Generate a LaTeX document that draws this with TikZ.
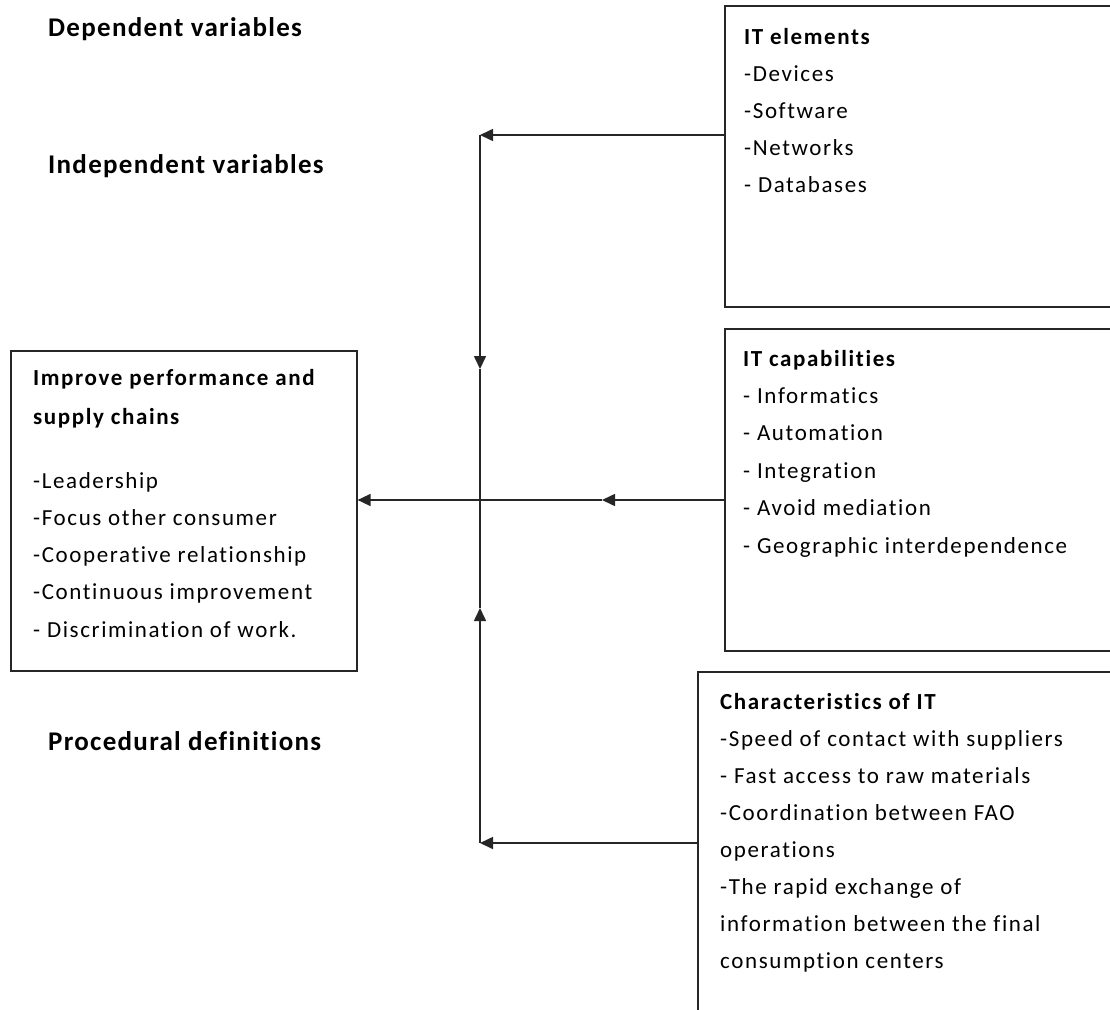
\documentclass[tikz,border=0pt]{standalone}
\usepackage{fontspec}
\setmainfont{Carlito}[LetterSpace=7,Ligatures=NoCommon]
\newfontfamily\lblfont{Carlito}[LetterSpace=4.8,Ligatures=NoCommon]
\usetikzlibrary{arrows.meta}
\begin{document}
\begin{tikzpicture}[x=1pt,y=-1pt,
  boxstyle/.style={draw=black!85,line width=1.6pt,rectangle,inner sep=0pt,anchor=north west},
  txt/.style={anchor=base west,inner sep=0pt,font=\fontsize{23}{28}\selectfont},
  hdr/.style={txt,font=\fontsize{23}{28}\selectfont\bfseries},
  lbl/.style={anchor=base west,inner sep=0pt,font=\lblfont\fontsize{27}{32}\selectfont\bfseries},
  conn/.style={draw=black!85,line width=1.6pt},
  arr/.style={conn,-{Triangle[length=13pt,width=12pt]}}]
\useasboundingbox (0,0) rectangle (1110,1009);
\clip (0,0) rectangle (1110,1009);
% boxes
\node[boxstyle,minimum width=420pt,minimum height=301pt] (itel) at (724,5) {};
\node[boxstyle,minimum width=420pt,minimum height=322pt] (itcap) at (724,328) {};
\node[boxstyle,minimum width=440pt,minimum height=380pt] (char) at (697,671) {};
\node[boxstyle,minimum width=346pt,minimum height=320pt] (perf) at (10,350) {};
% labels
\node[lbl] (dep) at (48,36) {Dependent variables};
\node[lbl] (ind) at (48,173) {Independent variables};
\node[lbl] (proc) at (48,750) {Procedural definitions};
% IT elements text
\node[hdr] (el0) at (744,44) {IT elements};
\foreach \t [count=\i] in {-Devices,-Software,-Networks,- Databases}
  \node[txt] (el\i) at (744,44+37*\i) {\t};
% IT capabilities
\node[hdr] (cap0) at (743,366) {IT capabilities};
\foreach \t [count=\i] in {- Informatics,- Automation,- Integration,- Avoid mediation,- Geographic interdependence}
  \node[txt] (cap\i) at (743,366+37.4*\i) {\t};
% Characteristics
\node[hdr] (ch0) at (720,709) {Characteristics of IT};
\foreach \t [count=\i] in {-Speed of contact with suppliers,- Fast access to raw materials,-Coordination between FAO,operations,-The rapid exchange of,information between the final,consumption centers}
  \node[txt] (ch\i) at (720,709+37*\i) {\t};
% Performance
\node[hdr] (pf0) at (33,385) {Improve performance and};
\node[hdr] (pf1) at (33,424) {supply chains};
\foreach \t [count=\i] in {-Leadership,-Focus other consumer,-Cooperative relationship,-Continuous improvement,- Discrimination of work.}
  \node[txt] (pf\the\numexpr\i+1\relax) at (33,451+37.2*\i) {\t};
% connector coordinates
\coordinate (j1) at (480,135);
\coordinate (m1) at (480,369);
\coordinate (m2) at (480,608);
\coordinate (j3) at (480,843);
\coordinate (m3) at (602,500);
% connectors
\draw[arr] (itel.west |- j1) -- (j1);
\draw[arr] (j1) -- (m1);
\draw[conn] (m1) -- (m2);
\draw[arr] (j3) -- (m2);
\draw[arr] (char.west |- j3) -- (j3);
\draw[arr] (itcap.west |- m3) -- (m3);
\draw[arr] (m3) -- (perf.east |- m3);
\end{tikzpicture}
\end{document}
